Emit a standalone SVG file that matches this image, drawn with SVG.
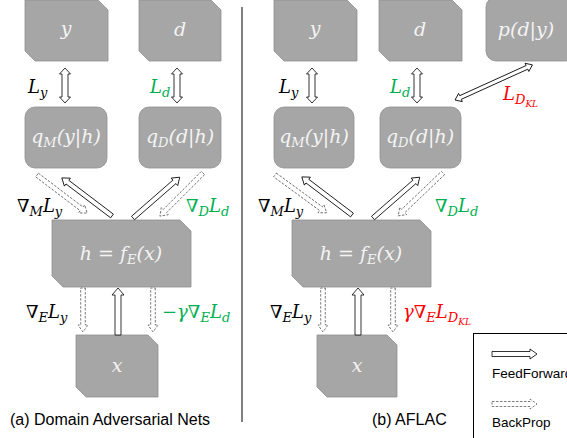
<svg xmlns="http://www.w3.org/2000/svg" width="567" height="438" viewBox="0 0 567 438">
<defs>
<style>
.box{fill:#a6a6a6;stroke:#8f8f8f;stroke-width:0.8}
.bt{font-family:"DejaVu Serif","Liberation Serif",serif;font-style:italic;font-size:19px;fill:#f4f4f4;text-anchor:middle}
.lb{font-family:"DejaVu Serif","Liberation Serif",serif;font-style:italic;font-size:18px;fill:#000}
.g{fill:#00b050}
.r{fill:#ff0000}
.up{font-style:normal}
.cap{font-family:"Liberation Sans",Arial,sans-serif;font-size:16px;fill:#000}
.leg{font-family:"Liberation Sans",Arial,sans-serif;font-size:13.5px;fill:#000}
.ff{fill:#fff;stroke:#000;stroke-width:0.8}
.bp{fill:#fff;stroke:#444;stroke-width:0.7;stroke-dasharray:2.5 1.5}
</style>
</defs>
<rect width="567" height="438" fill="#fff"/>

<line x1="242" y1="7" x2="242" y2="422" stroke="#000" stroke-width="1"/>

<!-- Left panel nodes -->
<g id="a-y"><path class="box" d="M25,0 H98 L108,10 V61 H35 L25,51 Z"/><text class="bt" x="66" y="35">y</text></g>
<g id="a-d"><path class="box" d="M139,0 H211 L221,10 V61 H149 L139,51 Z"/><text class="bt" x="180" y="36">d</text></g>
<g id="a-qM"><rect class="box" x="25" y="107" width="82" height="61" rx="10"/><text class="bt" x="66" y="143">q<tspan font-size="13" dy="4">M</tspan><tspan dy="-4">(y|h)</tspan></text></g>
<g id="a-qD"><rect class="box" x="139" y="107" width="82" height="61" rx="10"/><text class="bt" x="180" y="143">q<tspan font-size="13" dy="4">D</tspan><tspan dy="-4">(d|h)</tspan></text></g>
<g id="a-h"><path class="box" d="M52,220 H180 L191,231 V287 H63 L52,276 Z"/><text class="bt" x="121" y="260">h <tspan class="up">=</tspan> f<tspan font-size="13" dy="4">E</tspan><tspan dy="-4">(x)</tspan></text></g>
<g id="a-x"><path class="box" d="M76,335 H148 L158,345 V397 H86 L76,387 Z"/><text class="bt" x="117" y="372">x</text></g>

<!-- Right panel nodes -->
<g id="b-y"><path class="box" d="M274,0 H347 L357,10 V61 H284 L274,51 Z"/><text class="bt" x="315" y="35">y</text></g>
<g id="b-d"><path class="box" d="M379,0 H452 L462,10 V61 H389 L379,51 Z"/><text class="bt" x="420" y="36">d</text></g>
<g id="b-p"><rect class="box" x="486" y="-3" width="90" height="64" rx="10"/><text class="bt" x="526" y="36">p(d|y)</text></g>
<g id="b-qM"><rect class="box" x="274" y="107" width="80" height="61" rx="10"/><text class="bt" x="314" y="143">q<tspan font-size="13" dy="4">M</tspan><tspan dy="-4">(y|h)</tspan></text></g>
<g id="b-qD"><rect class="box" x="380" y="107" width="81" height="61" rx="10"/><text class="bt" x="420" y="143">q<tspan font-size="13" dy="4">D</tspan><tspan dy="-4">(d|h)</tspan></text></g>
<g id="b-h"><path class="box" d="M292,220 H420 L431,231 V287 H303 L292,276 Z"/><text class="bt" x="361" y="260">h <tspan class="up">=</tspan> f<tspan font-size="13" dy="4">E</tspan><tspan dy="-4">(x)</tspan></text></g>
<g id="b-x"><path class="box" d="M317,335 H387 L397,345 V397 H327 L317,387 Z"/><text class="bt" x="357" y="372">x</text></g>

<!-- Connectors -->
<g id="connectors">
<!-- left panel -->
<path class="ff" transform="translate(65,68) rotate(90)" d="M0,0 L6,-5.5 V-3 H29 V-5.5 L35,0 L29,5.5 V3 H6 V5.5 Z"/>
<path class="ff" transform="translate(177,68) rotate(90)" d="M0,0 L6,-5.5 V-3 H29 V-5.5 L35,0 L29,5.5 V3 H6 V5.5 Z"/>
<path class="ff" transform="translate(112,216) rotate(-142.8)" d="M0,-2.3 H56 V-5 L63,0 L56,5 V2.3 H0 Z"/>
<path class="bp" transform="translate(37,175) rotate(37.2)" d="M0,-2.3 H56 V-5 L63,0 L56,5 V2.3 H0 Z"/>
<path class="ff" transform="translate(133,218) rotate(-41.1)" d="M0,-2.3 H55 V-5 L62,0 L55,5 V2.3 H0 Z"/>
<path class="bp" transform="translate(203,173) rotate(135)" d="M0,-2.3 H54 V-5 L61,0 L54,5 V2.3 H0 Z"/>
<path class="bp" transform="translate(83,288) rotate(90)" d="M0,-2.3 H37 V-5 L44,0 L37,5 V2.3 H0 Z"/>
<path class="ff" transform="translate(118,335) rotate(-90)" d="M0,-3 H40 V-6 L47,0 L40,6 V3 H0 Z"/>
<path class="bp" transform="translate(153,288) rotate(90)" d="M0,-2.3 H37 V-5 L44,0 L37,5 V2.3 H0 Z"/>
<!-- right panel -->
<path class="ff" transform="translate(312,68) rotate(90)" d="M0,0 L6,-5.5 V-3 H29 V-5.5 L35,0 L29,5.5 V3 H6 V5.5 Z"/>
<path class="ff" transform="translate(417,68) rotate(90)" d="M0,0 L6,-5.5 V-3 H29 V-5.5 L35,0 L29,5.5 V3 H6 V5.5 Z"/>
<path class="ff" transform="translate(455,100) rotate(-24.4)" d="M0,0 L6,-4.5 V-2 H79 V-4.5 L85,0 L79,4.5 V2 H6 V4.5 Z"/>
<path class="bp" transform="translate(275,175) rotate(36.2)" d="M0,-2.3 H57 V-5 L64,0 L57,5 V2.3 H0 Z"/>
<path class="ff" transform="translate(352,215) rotate(-142.8)" d="M0,-2.3 H56 V-5 L63,0 L56,5 V2.3 H0 Z"/>
<path class="ff" transform="translate(373,218) rotate(-41.1)" d="M0,-2.3 H55 V-5 L62,0 L55,5 V2.3 H0 Z"/>
<path class="bp" transform="translate(443,173) rotate(136.3)" d="M0,-2.3 H55 V-5 L62,0 L55,5 V2.3 H0 Z"/>
<path class="bp" transform="translate(323,288) rotate(90)" d="M0,-2.3 H37 V-5 L44,0 L37,5 V2.3 H0 Z"/>
<path class="ff" transform="translate(358,335) rotate(-90)" d="M0,-3 H40 V-6 L47,0 L40,6 V3 H0 Z"/>
<path class="bp" transform="translate(393,288) rotate(90)" d="M0,-2.3 H37 V-5 L44,0 L37,5 V2.3 H0 Z"/>
</g>

<!-- Labels left -->
<text class="lb" x="28" y="93">L<tspan font-size="13" dy="4">y</tspan></text>
<text class="lb g" x="150" y="93">L<tspan font-size="13" dy="4">d</tspan></text>
<text class="lb" x="17" y="212"><tspan class="up">∇</tspan><tspan font-size="13" dy="4">M</tspan><tspan dy="-4">L</tspan><tspan font-size="13" dy="4">y</tspan></text>
<text class="lb g" x="186" y="212"><tspan class="up">∇</tspan><tspan font-size="13" dy="4">D</tspan><tspan dy="-4">L</tspan><tspan font-size="13" dy="4">d</tspan></text>
<text class="lb" x="26" y="318"><tspan class="up">∇</tspan><tspan font-size="13" dy="4">E</tspan><tspan dy="-4">L</tspan><tspan font-size="13" dy="4">y</tspan></text>
<text class="lb g" x="162" y="318"><tspan class="up">−</tspan>γ<tspan class="up">∇</tspan><tspan font-size="13" dy="4">E</tspan><tspan dy="-4">L</tspan><tspan font-size="13" dy="4">d</tspan></text>

<!-- Labels right -->
<text class="lb" x="279" y="93">L<tspan font-size="13" dy="4">y</tspan></text>
<text class="lb g" x="390" y="93">L<tspan font-size="13" dy="4">d</tspan></text>
<text class="lb r" x="503" y="100">L<tspan font-size="13" dy="4">D</tspan><tspan font-size="9" dy="3">KL</tspan></text>
<text class="lb" x="258" y="212"><tspan class="up">∇</tspan><tspan font-size="13" dy="4">M</tspan><tspan dy="-4">L</tspan><tspan font-size="13" dy="4">y</tspan></text>
<text class="lb g" x="435" y="212"><tspan class="up">∇</tspan><tspan font-size="13" dy="4">D</tspan><tspan dy="-4">L</tspan><tspan font-size="13" dy="4">d</tspan></text>
<text class="lb" x="270" y="318"><tspan class="up">∇</tspan><tspan font-size="13" dy="4">E</tspan><tspan dy="-4">L</tspan><tspan font-size="13" dy="4">y</tspan></text>
<text class="lb r" x="403" y="318">γ<tspan class="up">∇</tspan><tspan font-size="13" dy="4">E</tspan><tspan dy="-4">L</tspan><tspan font-size="13" dy="4">D</tspan><tspan font-size="9" dy="3">KL</tspan></text>

<!-- Captions -->
<text class="cap" x="10" y="425">(a) Domain Adversarial Nets</text>
<text class="cap" x="372" y="425">(b) AFLAC</text>

<!-- Legend -->
<g id="legend">
<rect x="473.5" y="333.5" width="120" height="120" fill="none" stroke="#000" stroke-width="1"/>
<path class="ff" transform="translate(492,354)" d="M0,-2.5 H38 V-5 L45,0 L38,5 V2.5 H0 Z"/>
<text class="leg" x="492" y="378">FeedForward</text>
<path class="bp" transform="translate(492,404)" d="M0,-2.5 H38 V-5 L45,0 L38,5 V2.5 H0 Z"/>
<text class="leg" x="492" y="427">BackProp</text>
</g>
</svg>
